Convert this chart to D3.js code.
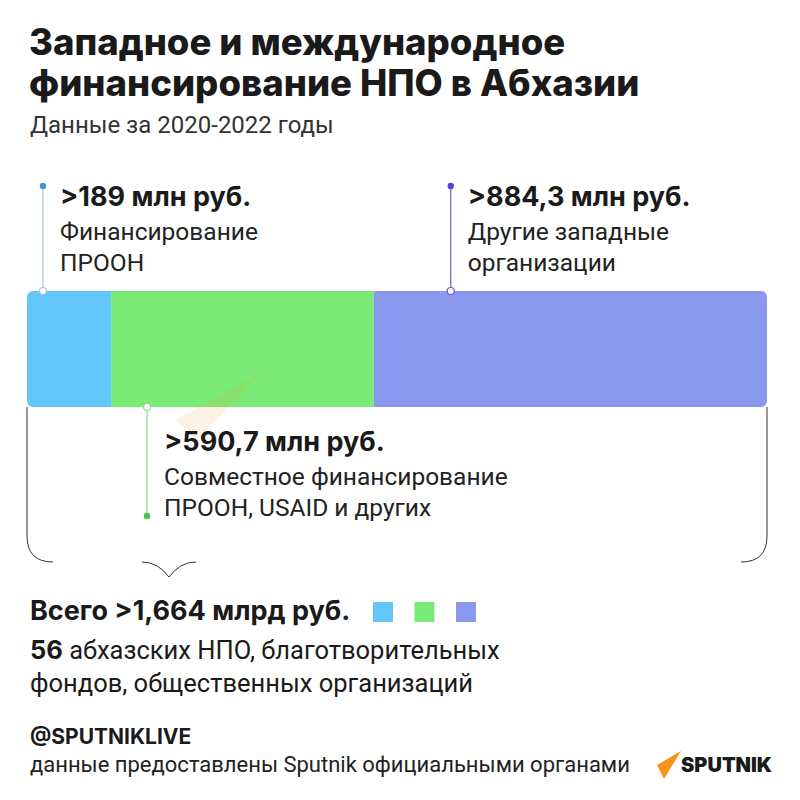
<!DOCTYPE html>
<html>
<head>
<meta charset="utf-8">
<script src="https://cdn.jsdelivr.net/npm/d3@7"></script>
<style>
  body { margin: 0; background: #fff; }
  svg { display: block; }
  .bold { font-family: Inter, "Noto Sans", sans-serif; font-weight: 700; fill: #1a1a1a; }
  .reg { font-family: Roboto, "Noto Sans", sans-serif; font-weight: 400; fill: #1a1a1a; }
</style>
</head>
<body>
<script>
// data
var categories = ["Финансирование ПРООН", "Совместное финансирование ПРООН, USAID и других", "Другие западные организации"];
var values = [189, 590.7, 884.3];
var valueLabels = [">189 млн руб.", ">590,7 млн руб.", ">884,3 млн руб."];
var descLines = [["Финансирование", "ПРООН"], ["Совместное финансирование", "ПРООН, USAID и других"], ["Другие западные", "организации"]];
var totalLabel = "Всего >1,664 млрд руб.";

window.onload = draw();

function draw(){

    var width = 800,
        height = 800;

    var svg = d3.select("body")
        .append("svg")
        .attr("width", width)
        .attr("height", height);

    var color = d3.scaleOrdinal()
        .domain(categories)
        .range(["#63c6f8", "#79eb76", "#8a99ed"]);
    var dotColor = d3.scaleOrdinal()
        .domain(categories)
        .range(["#3f93d9", "#4cc34f", "#5a3ee0"]);
    var lineColor = d3.scaleOrdinal()
        .domain(categories)
        .range(["#a9c3dd", "#8fdc8f", "#6c58c9"]);

    //title
    svg.append("text").attr("class", "bold").attr("x", 29).attr("y", 55)
        .style("font-size", "36.5px").style("font-weight", 800)
        .text("Западное и международное");
    svg.append("text").attr("class", "bold").attr("x", 29).attr("y", 96)
        .style("font-size", "36.5px").style("font-weight", 800)
        .text("финансирование НПО в Абхазии");
    svg.append("text").attr("class", "reg").attr("x", 30).attr("y", 133)
        .style("font-size", "24px").style("fill", "#333")
        .text("Данные за 2020-2022 годы");

    //bar
    var barTop = 291, barH = 116;
    var x = d3.scaleLinear()
        .domain([0, d3.sum(values)])
        .range([27, 767]);

    var starts = d3.cumsum([0].concat(values)).slice(0, values.length);

    svg.append("clipPath").attr("id", "barclip")
        .append("rect")
        .attr("x", x(0)).attr("y", barTop)
        .attr("width", x(d3.sum(values)) - x(0)).attr("height", barH)
        .attr("rx", 6);

    var bar = svg.append("g").attr("clip-path", "url(#barclip)");
    bar.selectAll("rect")
        .data(categories)
        .enter()
        .append("rect")
        .attr("x", function(d, i){ return x(starts[i]); })
        .attr("y", barTop)
        .attr("width", function(d, i){ return x(starts[i] + values[i]) - x(starts[i]); })
        .attr("height", barH)
        .attr("fill", function(d){ return color(d); });

    //faint watermark swoosh
    svg.append("path")
        .attr("d", "M175,420 L262,372 L198,440 Z")
        .attr("fill", "#f7941d")
        .attr("opacity", 0.12);

    //brace under bar
    var bl = x(0), br = x(d3.sum(values)), by = 562, r = 26;
    var brace = d3.path();
    brace.moveTo(bl, barTop + barH);
    brace.lineTo(bl, by - r);
    brace.quadraticCurveTo(bl, by, bl + r, by);
    brace.moveTo(br, barTop + barH);
    brace.lineTo(br, by - r);
    brace.quadraticCurveTo(br, by, br - r, by);
    brace.moveTo(142, by);
    brace.quadraticCurveTo(158, by, 169, 577);
    brace.quadraticCurveTo(180, by, 196, by);
    svg.append("path").attr("d", brace.toString())
        .attr("fill", "none").attr("stroke", "#333").attr("stroke-width", 1);

    //callouts
    var calloutOffset = [16, 36, 77];
    var calloutSide = ["top", "bottom", "top"];

    categories.forEach(function(c, i){
        var cx = x(starts[i]) + calloutOffset[i];
        var g = svg.append("g");
        var yEnd, yDot, tx = cx + 17, ty;
        if (calloutSide[i] === "top") {
            yEnd = barTop; yDot = 186; ty = 206;
        } else {
            yEnd = barTop + barH; yDot = 516; ty = 451;
        }
        g.append("line")
            .attr("x1", cx).attr("x2", cx)
            .attr("y1", yDot).attr("y2", yEnd)
            .attr("stroke", lineColor(c)).attr("stroke-width", 1.2);
        g.append("circle")
            .attr("cx", cx).attr("cy", yDot).attr("r", 3.2)
            .attr("fill", dotColor(c));
        g.append("circle")
            .attr("cx", cx).attr("cy", yEnd).attr("r", 3.5)
            .attr("fill", "#fff").attr("stroke", lineColor(c)).attr("stroke-width", 1.2);
        g.append("text").attr("class", "bold")
            .attr("x", tx).attr("y", ty)
            .style("font-size", "27px")
            .text(valueLabels[i]);
        g.selectAll(".desc")
            .data(descLines[i])
            .enter()
            .append("text")
            .attr("class", "reg desc")
            .attr("x", tx)
            .attr("y", function(d, j){ return ty + 34 + j * 31; })
            .style("font-size", "24.5px")
            .style("fill", "#222")
            .text(function(d){ return d; });
    });

    //total + legend
    svg.append("text").attr("class", "bold")
        .attr("x", 30).attr("y", 620)
        .style("font-size", "27px")
        .text(totalLabel);
    svg.selectAll(".legend")
        .data(categories)
        .enter()
        .append("rect")
        .attr("class", "legend")
        .attr("x", function(d, i){ return 373 + i * 41.5; })
        .attr("y", 602)
        .attr("width", 20).attr("height", 20)
        .attr("fill", function(d){ return color(d); });

    var note = svg.append("text").attr("class", "reg")
        .attr("x", 30).attr("y", 659)
        .style("font-size", "25.5px");
    note.append("tspan").attr("class", "bold").text("56");
    note.append("tspan").text(" абхазских НПО, благотворительных");
    svg.append("text").attr("class", "reg")
        .attr("x", 30).attr("y", 692)
        .style("font-size", "25.5px")
        .text("фондов, общественных организаций");

    //footer
    svg.append("text").attr("class", "bold")
        .attr("x", 30).attr("y", 744)
        .style("font-size", "21px")
        .text("@SPUTNIKLIVE");
    svg.append("text").attr("class", "reg")
        .attr("x", 30).attr("y", 772)
        .style("font-size", "22px").style("fill", "#222")
        .text("данные предоставлены Sputnik официальными органами");

    svg.append("path")
        .attr("d", "M657,765 L681,751 L664,779 Z")
        .attr("fill", "#f7941d");
    svg.append("text").attr("class", "bold")
        .attr("x", 681).attr("y", 772)
        .style("font-size", "20px").style("font-weight", 900)
        .text("SPUTNIK");
}
</script>
</body>
</html>
